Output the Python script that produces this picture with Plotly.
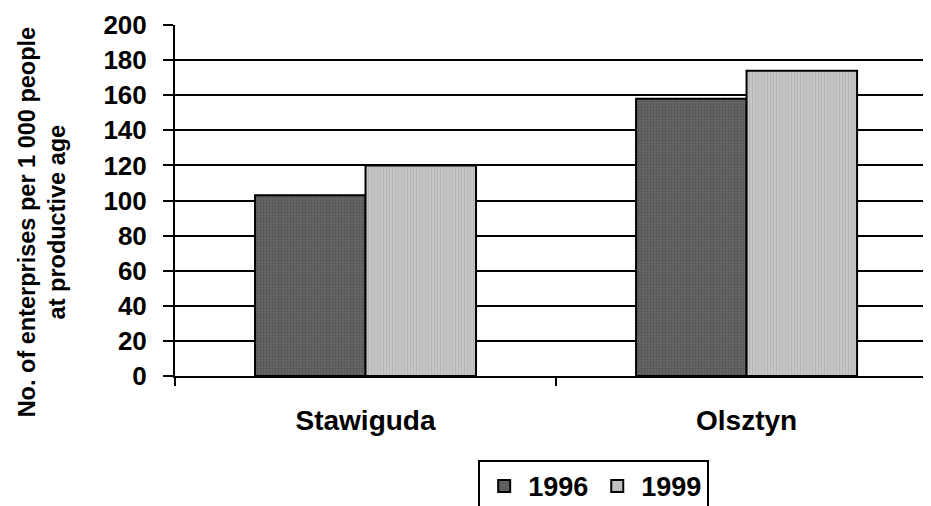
import plotly.graph_objects as go

categories = ["Stawiguda", "Olsztyn"]
years = ["1996", "1999"]
values_1996 = [103, 158]
values_1999 = [120, 174]
y_ticks = [0, 20, 40, 60, 80, 100, 120, 140, 160, 180, 200]
y_title_lines = ["No. of enterprises per 1 000 people", "at productive age"]

FONT = "Liberation Sans, Arial, sans-serif"

fig = go.Figure()
fig.add_trace(go.Bar(
    name=years[0], x=categories, y=values_1996,
    marker=dict(color="#6a6a6a", line=dict(color="black", width=2),
                pattern=dict(shape=".", fillmode="overlay", fgcolor="#383838",
                             size=3, solidity=0.45)),
))
fig.add_trace(go.Bar(
    name=years[1], x=categories, y=values_1999,
    marker=dict(color="#c6c6c6", line=dict(color="black", width=2),
                pattern=dict(shape="|", fillmode="overlay", fgcolor="#a4a4a4",
                             size=3, solidity=0.35)),
))

fig.update_layout(
    width=931, height=506,
    margin=dict(l=167, r=0, t=17, b=138),
    paper_bgcolor="white", plot_bgcolor="white",
    barmode="group", bargap=0.42, bargroupgap=0,
    font=dict(family=FONT, color="black"),
    showlegend=True,
    legend=dict(orientation="h", x=0.548, xanchor="center", y=-0.239, yanchor="top",
                font=dict(size=27, family=FONT, color="black", weight="bold"),
                bordercolor="black", borderwidth=2, bgcolor="white",
                itemwidth=38, traceorder="normal"),
    xaxis=dict(type="category", range=[-0.5, 1.505], tickson="boundaries",
               ticks="outside", ticklen=8, tickwidth=2, tickcolor="black",
               showline=True, linecolor="black", linewidth=2, showgrid=False,
               ticklabelstandoff=18,
               tickfont=dict(size=28, family=FONT, color="black", weight="bold")),
    yaxis=dict(range=[0, 200], tickvals=y_ticks, ticks="outside", ticklen=10,
               tickwidth=2, tickcolor="black", showline=True, linecolor="black",
               linewidth=2, showgrid=True, gridcolor="black", gridwidth=2,
               zeroline=False, ticklabelstandoff=11,
               tickfont=dict(size=26, family=FONT, color="black", weight="bold")),
)

fig.add_annotation(
    text="<br>".join(y_title_lines), xref="paper", yref="paper",
    x=-0.1735, y=0.439, xanchor="center", yanchor="middle", textangle=-90,
    showarrow=False, font=dict(size=23.5, family=FONT, color="black", weight="bold"),
)

fig.write_html("out.html")
